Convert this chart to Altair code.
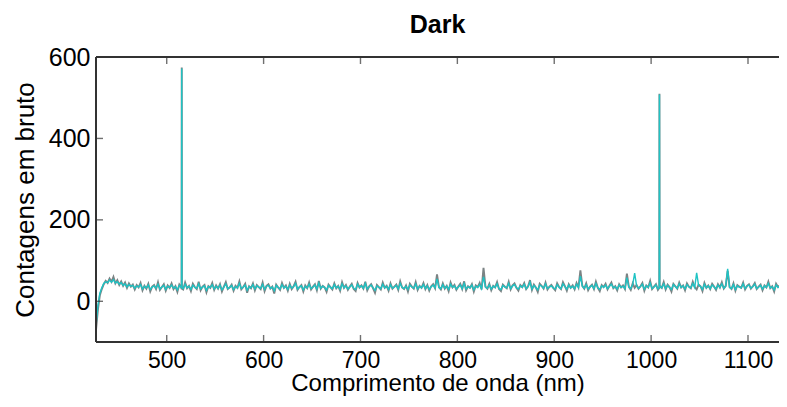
import altair as alt
import pandas as pd

# Wavelength grid (nm) of the dark spectrum samples
wavelengths = list(range(427, 1140, 2))

# Series 1 (gray) raw counts
gray_counts = [
    -70, -20, 15, 30, 42, 50, 45, 56, 48, 60, 44, 52, 40, 49, 38, 46, 33, 44, 36, 41,
    29, 40, 34, 45, 27, 38, 31, 43, 24, 36, 40, 30, 47, 28, 35, 42, 26, 39, 33, 44,
    30, 37, 23, 41, 34, 29, 46, 32, 38, 25, 43, 35, 30, 48, 27, 36, 40, 22, 37, 33,
    45, 28, 39, 31, 42, 24, 36, 47, 30, 34, 41, 26, 38, 33, 49, 29, 35, 43, 21, 37,
    32, 44, 27, 40, 35, 30, 46, 25, 38, 42, 31, 36, 19, 41, 34, 28, 45, 33, 39, 26,
    43, 30, 37, 48, 28, 35, 40, 24, 39, 32, 46, 29, 36, 42, 27, 50, 31, 38, 34, 23,
    41, 35, 29, 44, 32, 38, 26, 47, 33, 40, 28, 36, 43, 30, 25, 45, 34, 39, 31, 48,
    27, 37, 42, 32, 21, 40, 35, 29, 46, 33, 38, 26, 44, 31, 36, 41, 28, 49, 34, 30,
    39, 24, 43, 36, 31, 47, 28, 38, 33, 45, 30, 40, 26, 37, 42, 32, 66, 35, 29, 44,
    31, 38, 25, 46, 34, 40, 28, 36, 43, 30, 49, 27, 37, 33, 42, 24, 39, 35, 45, 29,
    82, 36, 31, 43, 27, 38, 34, 47, 30, 25, 41, 36, 32, 48, 29, 39, 44, 33, 26, 40,
    35, 45, 30, 37, 52, 28, 41, 34, 23, 43, 38, 31, 46, 29, 36, 40, 33, 27, 44, 35,
    30, 47, 37, 26, 42, 33, 39, 29, 45, 34, 76, 38, 31, 44, 27, 36, 41, 30, 48, 33,
    25, 40, 35, 43, 29, 38, 46, 32, 37, 27, 42, 34, 39, 30, 68, 36, 28, 44, 33, 40,
    31, 37, 45, 26, 39, 34, 50, 30, 36, 42, 28, 38, 33, 47, 29, 41, 35, 24, 43, 37,
    31, 46, 34, 39, 27, 44, 36, 32, 48, 35, 29, 41, 37, 25, 45, 33, 39, 30, 43, 36,
    28, 42, 34, 47, 31, 38, 75, 35, 30, 44, 26, 40, 36, 33, 46, 29, 38, 42, 31, 37,
    45, 30, 36, 41, 27, 39, 34, 48, 32, 37, 24, 43, 35, 40, 29, 38, 33,
]

# Series 2 (cyan) raw counts
cyan_counts = [
    -60, -10, 20, 33, 44, 48, 46, 52, 47, 53, 45, 48, 42, 46, 39, 43, 35, 41, 37, 39,
    32, 38, 35, 41, 30, 37, 33, 40, 29, 35, 38, 32, 42, 30, 35, 39, 29, 37, 34, 40,
    32, 36, 28, 39, 34, 31, 42, 33, 37, 29, 40, 34, 32, 43, 30, 35, 38, 27, 36, 34,
    41, 30, 37, 32, 40, 28, 35, 43, 31, 34, 39, 29, 36, 33, 44, 31, 35, 40, 27, 36,
    33, 41, 30, 38, 35, 32, 42, 29, 37, 39, 32, 35, 26, 39, 34, 30, 41, 33, 37, 29,
    40, 32, 36, 44, 30, 35, 38, 28, 37, 33, 42, 31, 35, 40, 30, 45, 32, 37, 34, 28,
    39, 34, 31, 41, 33, 37, 29, 43, 33, 38, 30, 35, 40, 32, 29, 42, 34, 38, 32, 44,
    30, 36, 40, 33, 27, 38, 34, 31, 42, 33, 37, 29, 41, 32, 35, 39, 30, 44, 34, 31,
    37, 29, 40, 35, 32, 43, 30, 37, 33, 41, 31, 38, 29, 36, 40, 33, 55, 34, 31, 41,
    32, 37, 29, 42, 34, 38, 30, 35, 40, 31, 44, 30, 36, 33, 40, 28, 37, 34, 41, 31,
    60, 35, 32, 40, 30, 37, 34, 43, 31, 29, 39, 35, 33, 44, 31, 38, 41, 33, 30, 38,
    34, 42, 31, 36, 47, 30, 39, 34, 28, 40, 37, 32, 43, 31, 35, 38, 33, 30, 41, 34,
    31, 43, 36, 30, 40, 33, 37, 31, 42, 34, 62, 37, 32, 41, 30, 35, 39, 31, 44, 33,
    29, 38, 34, 40, 31, 37, 42, 33, 36, 30, 40, 34, 37, 31, 58, 35, 31, 41, 69, 38,
    32, 36, 42, 30, 38, 34, 45, 31, 35, 40, 30, 37, 33, 43, 31, 39, 34, 29, 41, 36,
    32, 43, 34, 38, 30, 41, 35, 33, 44, 34, 70, 39, 36, 29, 42, 33, 38, 31, 40, 35,
    30, 40, 34, 43, 32, 37, 80, 34, 31, 41, 29, 38, 35, 33, 43, 31, 37, 40, 32, 36,
    42, 31, 35, 39, 30, 38, 34, 44, 33, 36, 28, 40, 34, 38, 31, 37, 33,
]

# Narrow spikes (wavelength, gray count, cyan count)
spike_wl = [515.3, 515.5, 515.7, 1008.4, 1008.6, 1008.8]
spike_gray = [30, 574, 31, 33, 510, 32]
spike_cyan = [32, 572, 33, 34, 508, 33]

x_ticks = [500, 600, 700, 800, 900, 1000, 1100]
y_ticks = [0, 200, 400, 600]
y_inner_ticks = [0, 200, 400]

W, H = 683, 285
FONT = "Liberation Sans"
FRAME = "#333333"

gray_df = pd.DataFrame({"wl": wavelengths + spike_wl, "v": gray_counts + spike_gray})
cyan_df = pd.DataFrame({"wl": wavelengths + spike_wl, "v": cyan_counts + spike_cyan})

xs = alt.Scale(domain=[427, 1132], nice=False, zero=False)
ys = alt.Scale(domain=[-100, 600], nice=False, zero=False)

x_axis = alt.Axis(values=x_ticks, format="d", ticks=False, domain=False, grid=False,
                  labelFontSize=23, labelPadding=7, labelColor="black",
                  title="Comprimento de onda (nm)", titleFontSize=24,
                  titleFontWeight="normal", titleColor="black", titlePadding=-1)
y_axis = alt.Axis(values=y_ticks, format="d", ticks=False, domain=False, grid=False,
                  labelFontSize=25, labelPadding=6, labelColor="black",
                  title="Contagens em bruto", titleFontSize=26,
                  titleFontWeight="normal", titleColor="black", titlePadding=10)

gray_line = alt.Chart(gray_df).mark_line(color="#7b8384", strokeWidth=1.9, clip=True).encode(
    x=alt.X("wl:Q", scale=xs, axis=x_axis),
    y=alt.Y("v:Q", scale=ys, axis=y_axis),
)
cyan_line = alt.Chart(cyan_df).mark_line(color="#1fc3c4", strokeWidth=1.4, clip=True).encode(
    x=alt.X("wl:Q", scale=xs),
    y=alt.Y("v:Q", scale=ys),
)

xt = pd.DataFrame({"t": x_ticks})
yt = pd.DataFrame({"t": y_inner_ticks})
tick_style = dict(color=FRAME, thickness=1.4, size=7)

bottom_ticks = alt.Chart(xt).mark_tick(orient="vertical", **tick_style).encode(
    x=alt.X("t:Q", scale=xs), y=alt.value(H - 3.5))
top_ticks = alt.Chart(xt).mark_tick(orient="vertical", **tick_style).encode(
    x=alt.X("t:Q", scale=xs), y=alt.value(3.5))
left_ticks = alt.Chart(yt).mark_tick(orient="horizontal", **tick_style).encode(
    y=alt.Y("t:Q", scale=ys), x=alt.value(3.5))

# Box frame: left, top and bottom edges (right edge lies outside the picture)
frame_left = alt.Chart(xt).mark_rule(color=FRAME, strokeWidth=1.5).encode(
    x=alt.value(0), y=alt.value(0), y2=alt.value(H))
frame_top = alt.Chart(xt).mark_rule(color=FRAME, strokeWidth=1.5).encode(
    x=alt.value(0), x2=alt.value(W), y=alt.value(0))
frame_bottom = alt.Chart(xt).mark_rule(color=FRAME, strokeWidth=1.5).encode(
    x=alt.value(0), x2=alt.value(W), y=alt.value(H))

chart = alt.layer(
    gray_line, cyan_line, bottom_ticks, top_ticks, left_ticks,
    frame_left, frame_top, frame_bottom
).properties(
    width=W, height=H,
    title=alt.TitleParams("Dark", fontSize=25, fontWeight="bold", color="black",
                          font=FONT, anchor="middle", offset=7),
    autosize=alt.AutoSizeParams(type="none"),
    padding={"left": 88, "top": 49, "right": 0, "bottom": 57},
).configure(
    font=FONT,
).configure_view(
    stroke=None
).configure_axis(
    labelFont=FONT, titleFont=FONT
)

chart.save("out.html", embed_options={"renderer": "svg", "actions": False})
